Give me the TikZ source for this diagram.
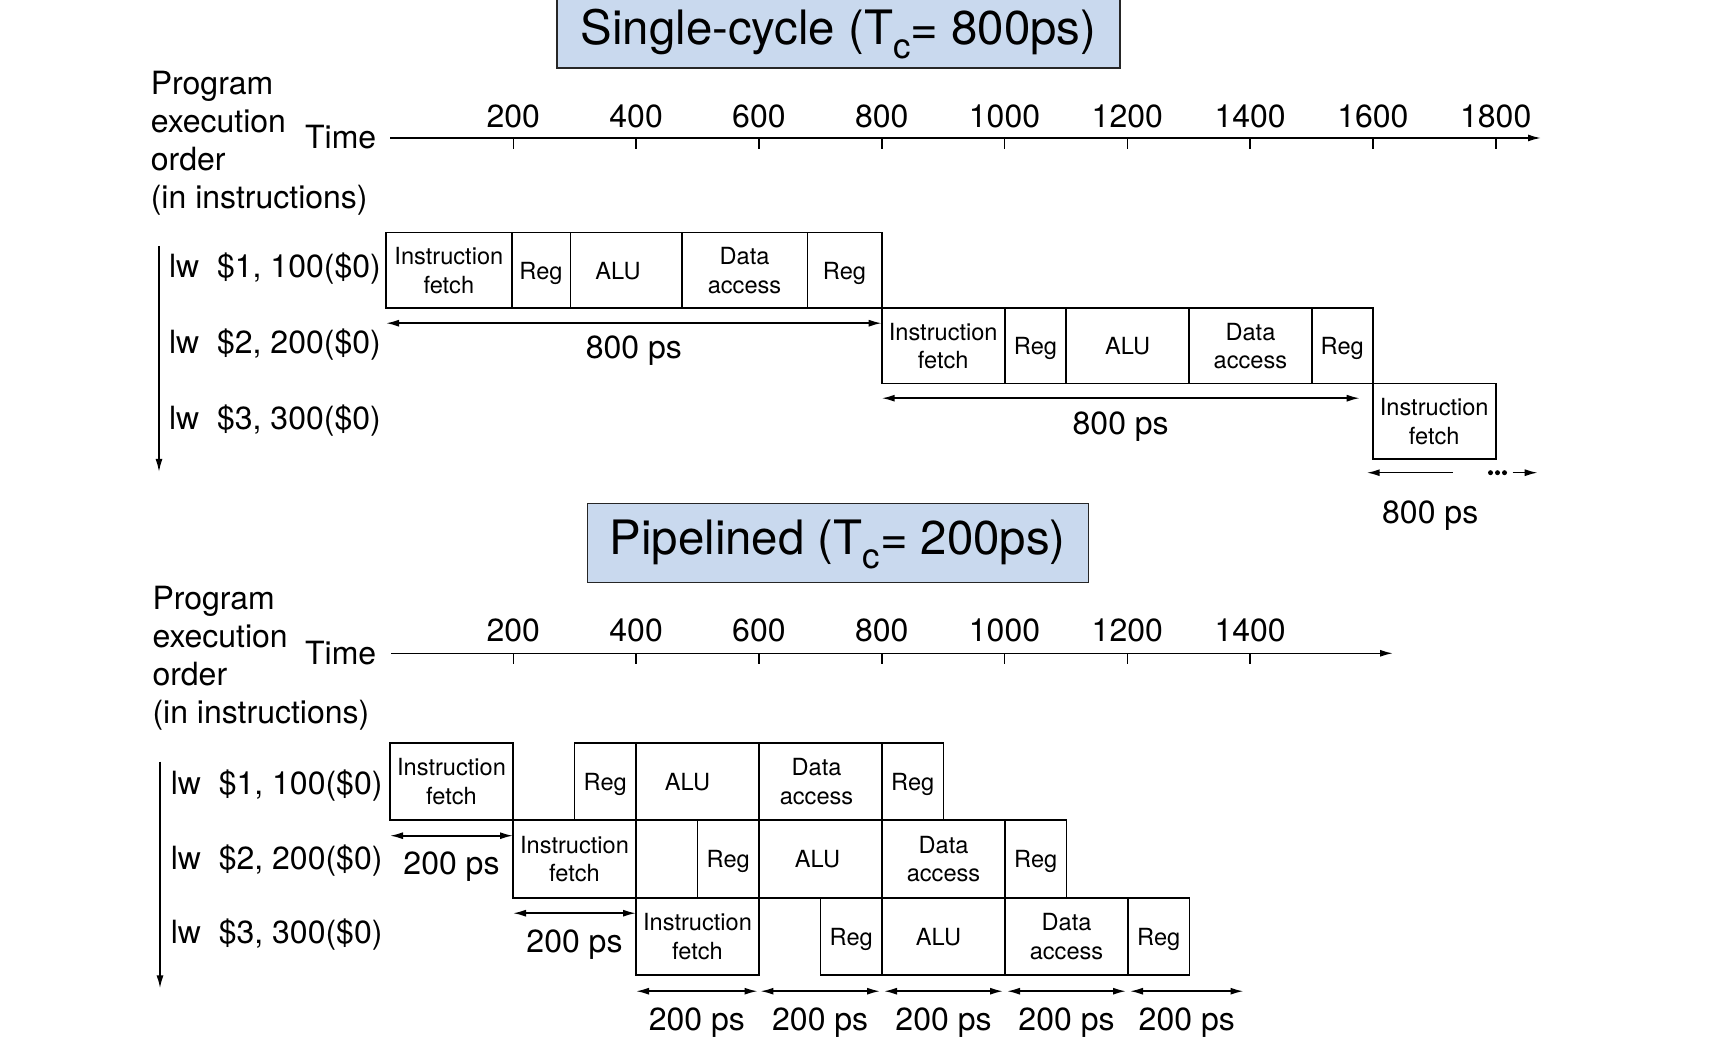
\documentclass[tikz,border=0pt]{standalone}
\usepackage{fontspec}
\setmainfont{TeX Gyre Heros}
\usetikzlibrary{positioning, arrows.meta}
\definecolor{TitleBlue}{RGB}{201, 217, 238}

\newcommand{\subc}{\raisebox{-7pt}[0pt][0pt]{\fontsize{17.5}{20}\selectfont c}}

\tikzset{
  stagebox/.style={draw, rectangle, inner sep=0pt, outer sep=0pt, align=center,
    anchor=north west, text depth=0pt, font=\fontsize{11.8}{14.2}\selectfont},
  wd/.style={minimum width=#1*0.5pt},
  srow/.style={minimum height=37.75pt},
  prow/.style={minimum height=38.75pt},
  lbl/.style={inner sep=0pt, font=\fontsize{16}{19}\selectfont},
  titlebox/.style={draw=black!85, line width=0.6pt, fill=TitleBlue, inner sep=0pt,
    font=\fontsize{23.7}{28}\selectfont},
  dur/.style={{Latex[length=6.5pt,width=3.5pt]}-{Latex[length=6.5pt,width=3.5pt]}},
  fwd/.style={-{Latex[length=6.5pt,width=3.5pt]}}
}

\begin{document}
\begin{tikzpicture}[x=0.5pt, y=-0.5pt, line width=0.8pt]
  \useasboundingbox (0,0) rectangle (1722,1042);

  % Titles
  \node[titlebox, minimum width=281.5pt, minimum height=36pt] (scTitle) at (838.5,32) {Single-cycle (T\subc= 800ps)};
  \node[titlebox, minimum width=250.5pt, minimum height=39.5pt] (plTitle) at (837.7,542.8) {Pipelined (T\subc= 200ps)};

  % ---------------- Single-cycle ----------------
  % Time axis
  \coordinate (sAxL) at (390,138);
  \coordinate (sAxR) at (1541,138);
  \draw[fwd] (sAxL) -- (sAxR);
  \node[lbl, anchor=east] (sTime) at (377,137) {Time};
  \foreach \k in {1,...,9} {
    \pgfmathtruncatemacro{\tv}{200*\k}
    \draw ({390.5+122.8*\k},138) -- ++(0,11);
    \node[lbl] (sTick\k) at ({390.5+122.8*\k},116.7) {\tv};
  }

  % Program order
  \node[lbl, align=left, anchor=west] (sOrder) at (150,143) {Program\\execution\\order\\(in instructions)};
  \coordinate (sOrdTop) at (159,246);
  \coordinate (sOrdBot) at (159,472);
  \draw[fwd] (sOrdTop) -- (sOrdBot);
  \node[lbl, anchor=base west] (sI1) at (168.3,277.7) {lw\ \ \$1, 100(\$0)};
  \node[lbl, anchor=base west] (sI2) at (168.3,353.3) {lw\ \ \$2, 200(\$0)};
  \node[lbl, anchor=base west] (sI3) at (168.3,429.3) {lw\ \ \$3, 300(\$0)};

  % Stages
  \node[stagebox, srow, wd=125.7] (s1if) at (386,232.7) {Instruction\\fetch};
  \node[stagebox, srow, wd=58.6] (s1rd) at (s1if.north east) {Reg};
  \node[stagebox, srow, wd=111.4] (s1alu) at (s1rd.north east) {ALU\hspace*{8pt}};
  \node[stagebox, srow, wd=125.6] (s1mem) at (s1alu.north east) {Data\\access};
  \node[stagebox, srow, wd=74.4] (s1wb) at (s1mem.north east) {Reg};

  \node[stagebox, srow, wd=123] (s2if) at (s1wb.south east) {Instruction\\fetch};
  \node[stagebox, srow, wd=61.5] (s2rd) at (s2if.north east) {Reg};
  \node[stagebox, srow, wd=123] (s2alu) at (s2rd.north east) {ALU};
  \node[stagebox, srow, wd=122.5] (s2mem) at (s2alu.north east) {Data\\access};
  \node[stagebox, srow, wd=61] (s2wb) at (s2mem.north east) {Reg};

  \node[stagebox, srow, wd=123] (s3if) at (s2wb.south east) {Instruction\\fetch};

  % Durations
  \draw[dur] ([yshift=-7.5pt]s1if.south west) -- ([yshift=-7.5pt]s1wb.south east)
    node[lbl, midway, yshift=-13.5pt] (s1t) {800 ps};
  \draw[dur] ([yshift=-7.25pt]s2if.south west) -- ([xshift=-6.5pt, yshift=-7.25pt]s2wb.south east)
    node[lbl, midway, yshift=-14pt] (s2t) {800 ps};
  \draw[fwd] ([xshift=40pt, yshift=-6.75pt]s3if.south west) -- ([xshift=-3pt, yshift=-6.75pt]s3if.south west);
  \fill (1490.5,472.7) circle (1.25pt) (1497.5,472.7) circle (1.25pt) (1504.5,472.7) circle (1.25pt);
  \draw[fwd] ([xshift=8.5pt, yshift=-6.75pt]s3if.south east) -- ([xshift=21pt, yshift=-6.75pt]s3if.south east);
  \node[lbl] (s3t) at ([xshift=-2pt, yshift=-28pt]s3if.south) {800 ps};

  % ---------------- Pipelined ----------------
  % Time axis
  \coordinate (pAxL) at (391,653.3);
  \coordinate (pAxR) at (1393,653.3);
  \draw[fwd] (pAxL) -- (pAxR);
  \node[lbl, anchor=east] (pTime) at (377,653) {Time};
  \foreach \k in {1,...,7} {
    \pgfmathtruncatemacro{\tv}{200*\k}
    \draw ({390.5+122.8*\k},653.3) -- ++(0,11);
    \node[lbl] (pTick\k) at ({390.5+122.8*\k},630) {\tv};
  }

  % Program order
  \node[lbl, align=left, anchor=west] (pOrder) at (151.7,658) {Program\\execution\\order\\(in instructions)};
  \coordinate (pOrdTop) at (160,761.7);
  \coordinate (pOrdBot) at (160,988.3);
  \draw[fwd] (pOrdTop) -- (pOrdBot);
  \node[lbl, anchor=base west] (pI1) at (170,794) {lw\ \ \$1, 100(\$0)};
  \node[lbl, anchor=base west] (pI2) at (170,869) {lw\ \ \$2, 200(\$0)};
  \node[lbl, anchor=base west] (pI3) at (170,943.3) {lw\ \ \$3, 300(\$0)};

  % Stages
  \node[stagebox, prow, wd=123] (p1if) at (390,742.7) {Instruction\\fetch};
  \node[stagebox, prow, wd=61.5] (p1rd) at ([xshift=30.75pt]p1if.north east) {Reg};
  \node[stagebox, prow, wd=123] (p1alu) at (p1rd.north east) {ALU\hspace*{10pt}};
  \node[stagebox, prow, wd=123] (p1mem) at (p1alu.north east) {Data\hspace*{4pt}\\access\hspace*{4pt}};
  \node[stagebox, prow, wd=61.5] (p1wb) at (p1mem.north east) {Reg};

  \node[stagebox, prow, wd=123] (p2if) at (p1if.south east) {Instruction\\fetch};
  \node[stagebox, prow, wd=61.5] (p2rd) at ([xshift=30.75pt]p2if.north east) {Reg};
  \node[stagebox, prow, wd=123] (p2alu) at (p2rd.north east) {ALU\hspace*{3pt}};
  \node[stagebox, prow, wd=123] (p2mem) at (p2alu.north east) {Data\\access};
  \node[stagebox, prow, wd=61.5] (p2wb) at (p2mem.north east) {Reg};

  \node[stagebox, prow, wd=123] (p3if) at (p2if.south east) {Instruction\\fetch};
  \node[stagebox, prow, wd=61.5] (p3rd) at ([xshift=30.75pt]p3if.north east) {Reg};
  \node[stagebox, prow, wd=123] (p3alu) at (p3rd.north east) {ALU\hspace*{5pt}};
  \node[stagebox, prow, wd=123] (p3mem) at (p3alu.north east) {Data\\access};
  \node[stagebox, prow, wd=61.5] (p3wb) at (p3mem.north east) {Reg};

  % Durations
  \draw[dur] ([yshift=-7.75pt]p1if.south west) -- ([yshift=-7.75pt]p1if.south east)
    node[lbl, midway, yshift=-15.5pt] (p1t) {200 ps};
  \draw[dur] ([yshift=-7.75pt]p2if.south west) -- ([yshift=-7.75pt]p2if.south east)
    node[lbl, midway, yshift=-15.5pt] (p2t) {200 ps};
  \draw[dur] ([yshift=-8pt]p3if.south west) -- ([xshift=-0.7pt, yshift=-8pt]p3if.south east)
    node[lbl, midway, yshift=-15.5pt] (p3t1) {200 ps};
  \draw[dur] ([xshift=0.7pt, yshift=-8pt]p3if.south east) -- ([xshift=-1pt, yshift=-8pt]p3alu.south west)
    node[lbl, midway, yshift=-15.5pt] (p3t2) {200 ps};
  \draw[dur] ([xshift=1pt, yshift=-8pt]p3alu.south west) -- ([xshift=-1pt, yshift=-8pt]p3alu.south east)
    node[lbl, midway, yshift=-15.5pt] (p3t3) {200 ps};
  \draw[dur] ([xshift=1pt, yshift=-8pt]p3mem.south west) -- ([xshift=-1pt, yshift=-8pt]p3mem.south east)
    node[lbl, midway, yshift=-15.5pt] (p3t4) {200 ps};
  \draw[dur] ([xshift=1pt, yshift=-8pt]p3wb.south west) -- ([xshift=27pt, yshift=-8pt]p3wb.south east)
    node[lbl, midway, yshift=-15.5pt] (p3t5) {200 ps};
\end{tikzpicture}
\end{document}
